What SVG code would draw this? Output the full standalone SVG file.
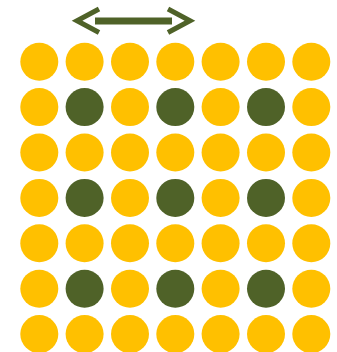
<svg xmlns="http://www.w3.org/2000/svg" width="337" height="352" viewBox="0 0 337 352">
<style>
.y{fill:#FFC000}
.g{fill:#4F6228}
.a{stroke:#4F6228;fill:none}
</style>
<rect width="337" height="352" fill="#fff"/>
<g id="arrow">
<line class="a" x1="95" y1="21" x2="172" y2="21" stroke-width="7"/>
<polyline class="a" points="99,9 77,20.7 99,32.5" stroke-width="5"/>
<polyline class="a" points="168,9 190,20.7 168,32.5" stroke-width="5"/>
</g>
<g id="grid">
<g id="r1"><circle class="y" cx="39.3" cy="61.7" r="19"/><circle class="y" cx="84.6" cy="61.7" r="19"/><circle class="y" cx="130" cy="61.7" r="19"/><circle class="y" cx="175.3" cy="61.7" r="19"/><circle class="y" cx="220.6" cy="61.7" r="19"/><circle class="y" cx="266" cy="61.7" r="19"/><circle class="y" cx="311.3" cy="61.7" r="19"/></g>
<g id="r2"><circle class="y" cx="39.3" cy="107.1" r="19"/><circle class="g" cx="84.6" cy="107.1" r="19"/><circle class="y" cx="130" cy="107.1" r="19"/><circle class="g" cx="175.3" cy="107.1" r="19"/><circle class="y" cx="220.6" cy="107.1" r="19"/><circle class="g" cx="266" cy="107.1" r="19"/><circle class="y" cx="311.3" cy="107.1" r="19"/></g>
<g id="r3"><circle class="y" cx="39.3" cy="152.5" r="19"/><circle class="y" cx="84.6" cy="152.5" r="19"/><circle class="y" cx="130" cy="152.5" r="19"/><circle class="y" cx="175.3" cy="152.5" r="19"/><circle class="y" cx="220.6" cy="152.5" r="19"/><circle class="y" cx="266" cy="152.5" r="19"/><circle class="y" cx="311.3" cy="152.5" r="19"/></g>
<g id="r4"><circle class="y" cx="39.3" cy="197.9" r="19"/><circle class="g" cx="84.6" cy="197.9" r="19"/><circle class="y" cx="130" cy="197.9" r="19"/><circle class="g" cx="175.3" cy="197.9" r="19"/><circle class="y" cx="220.6" cy="197.9" r="19"/><circle class="g" cx="266" cy="197.9" r="19"/><circle class="y" cx="311.3" cy="197.9" r="19"/></g>
<g id="r5"><circle class="y" cx="39.3" cy="243.3" r="19"/><circle class="y" cx="84.6" cy="243.3" r="19"/><circle class="y" cx="130" cy="243.3" r="19"/><circle class="y" cx="175.3" cy="243.3" r="19"/><circle class="y" cx="220.6" cy="243.3" r="19"/><circle class="y" cx="266" cy="243.3" r="19"/><circle class="y" cx="311.3" cy="243.3" r="19"/></g>
<g id="r6"><circle class="y" cx="39.3" cy="288.7" r="19"/><circle class="g" cx="84.6" cy="288.7" r="19"/><circle class="y" cx="130" cy="288.7" r="19"/><circle class="g" cx="175.3" cy="288.7" r="19"/><circle class="y" cx="220.6" cy="288.7" r="19"/><circle class="g" cx="266" cy="288.7" r="19"/><circle class="y" cx="311.3" cy="288.7" r="19"/></g>
<g id="r7"><circle class="y" cx="39.3" cy="334.1" r="19"/><circle class="y" cx="84.6" cy="334.1" r="19"/><circle class="y" cx="130" cy="334.1" r="19"/><circle class="y" cx="175.3" cy="334.1" r="19"/><circle class="y" cx="220.6" cy="334.1" r="19"/><circle class="y" cx="266" cy="334.1" r="19"/><circle class="y" cx="311.3" cy="334.1" r="19"/></g>
</g>
</svg>
